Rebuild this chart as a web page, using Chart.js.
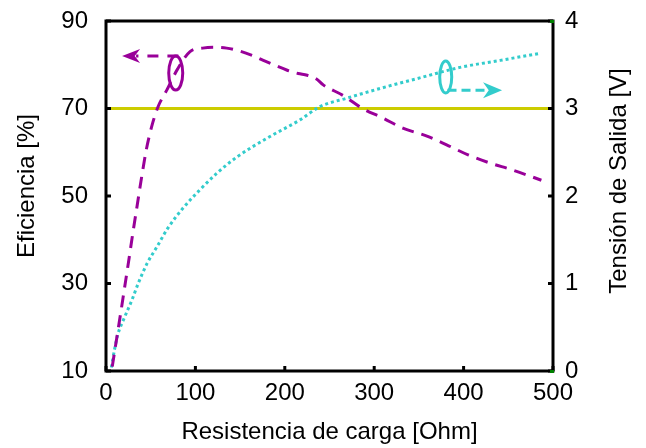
<!DOCTYPE html>
<html>
<head>
<meta charset="utf-8">
<script src="https://cdn.jsdelivr.net/npm/chart.js@4.4.1/dist/chart.umd.min.js"></script>
<style>
  html, body { margin: 0; padding: 0; background: #fff; }
</style>
</head>
<body>
<canvas id="effChart" width="646" height="448"></canvas>
<script>
// Load resistance [Ohm] and efficiency [%]
const rEff = [7, 12, 17, 20, 26, 30, 35, 40, 45, 51, 58, 68, 80, 94, 108, 120, 135, 150, 165, 176,
              190, 202, 215, 225, 235, 243, 265, 287, 310, 332, 359, 381, 405, 430, 454, 487];
const efficiency = [11, 17.5, 24, 28, 36, 41.5, 48, 54.5, 60.5, 65.8, 70.3, 74.2, 79, 83, 83.8, 84, 83.8, 83.1, 82, 81,
                    79.8, 78.8, 78, 77.6, 76.8, 75.4, 73, 70, 67.8, 65.5, 63.7, 61.7, 59.4, 57.5, 56, 53.6];

// Load resistance [Ohm] and output voltage [V]
const rVolt = [6, 10, 13, 21, 29, 36, 46, 57, 69, 86, 105, 124, 147, 180, 217, 239, 270, 314, 351, 396, 441, 485];
const voltage = [0.04, 0.27, 0.41, 0.62, 0.81, 1.0, 1.23, 1.42, 1.63, 1.86, 2.07, 2.26, 2.45, 2.66, 2.87, 3.02,
                 3.12, 3.25, 3.35, 3.47, 3.55, 3.63];

// Horizontal reference line (efficiency axis)
const refRange = [0, 500];
const refLevel = 70;

const FONT = "'Liberation Sans', Arial, sans-serif";
const PURPLE = '#990099';
const CYAN = '#33cccc';
const YELLOW = '#cccc00';

function toXY(xs, ys) {
    return xs.map((x, i) => ({ x: x, y: ys[i] }));
}

function arrowHead(ctx, tipX, tipY, dir, len, halfW) {
    ctx.beginPath();
    ctx.moveTo(tipX, tipY);
    ctx.lineTo(tipX - dir * len, tipY - halfW);
    ctx.lineTo(tipX - dir * len * 0.7, tipY);
    ctx.lineTo(tipX - dir * len, tipY + halfW);
    ctx.closePath();
    ctx.fill();
}

// frame, inward ticks, rotated axis titles and the two ellipse/arrow markers
const decorations = {
    id: 'decorations',
    afterDatasetsDraw(chart) {
        const ctx = chart.ctx;
        const a = chart.chartArea;
        const sx = chart.scales.x, sy = chart.scales.y, sv = chart.scales.y2;
        ctx.save();

        // inward tick marks
        ctx.strokeStyle = '#000';
        ctx.lineWidth = 3;
        ctx.beginPath();
        sx.ticks.forEach(t => {
            const px = sx.getPixelForValue(t.value);
            ctx.moveTo(px, a.bottom); ctx.lineTo(px, a.bottom - 5);
        });
        sy.ticks.forEach(t => {
            const py = sy.getPixelForValue(t.value);
            ctx.moveTo(a.left, py); ctx.lineTo(a.left + 5, py);
        });
        sv.ticks.forEach(t => {
            const py = sv.getPixelForValue(t.value);
            ctx.moveTo(a.right, py); ctx.lineTo(a.right - 5, py);
        });
        ctx.stroke();

        // frame
        ctx.strokeRect(a.left, a.top, a.right - a.left, a.bottom - a.top);
        ctx.fillStyle = '#008000';
        ctx.fillRect(a.right - 3, a.top - 1, 4, 3);
        ctx.fillRect(a.right - 3, a.bottom - 1, 4, 3);

        // efficiency marker: ellipse + dashed arrow pointing to left axis
        ctx.strokeStyle = PURPLE;
        ctx.fillStyle = PURPLE;
        ctx.lineWidth = 3;
        ctx.beginPath();
        ctx.ellipse(sx.getPixelForValue(78), sy.getPixelForValue(78.1), 7, 17, 0, 0, Math.PI * 2);
        ctx.stroke();
        const pY = sy.getPixelForValue(82);
        const pTip = sx.getPixelForValue(18);
        ctx.setLineDash([11, 9]);
        ctx.beginPath();
        ctx.moveTo(sx.getPixelForValue(81), pY);
        ctx.lineTo(pTip + 14, pY);
        ctx.stroke();
        ctx.setLineDash([]);
        arrowHead(ctx, pTip, pY, -1, 18, 7);

        // voltage marker: ellipse + dashed arrow pointing to right axis
        ctx.strokeStyle = CYAN;
        ctx.fillStyle = CYAN;
        ctx.beginPath();
        ctx.ellipse(sx.getPixelForValue(380), sv.getPixelForValue(3.36), 6, 16, 0, 0, Math.PI * 2);
        ctx.stroke();
        const cY = sv.getPixelForValue(3.21);
        const cTip = sx.getPixelForValue(443);
        ctx.setLineDash([9, 5]);
        ctx.beginPath();
        ctx.moveTo(sx.getPixelForValue(382), cY);
        ctx.lineTo(cTip - 14, cY);
        ctx.stroke();
        ctx.setLineDash([]);
        arrowHead(ctx, cTip, cY, 1, 19, 8);

        // vertical axis titles, both read bottom to top
        ctx.fillStyle = '#000';
        ctx.font = '24px ' + FONT;
        ctx.textAlign = 'center';
        ctx.textBaseline = 'middle';
        ctx.save();
        ctx.translate(27, 186);
        ctx.rotate(-Math.PI / 2);
        ctx.fillText('Eficiencia [%]', 0, 0);
        ctx.restore();
        ctx.save();
        ctx.translate(619, 181);
        ctx.rotate(-Math.PI / 2);
        ctx.fillText('Tensión de Salida [V]', 0, 0);
        ctx.restore();

        ctx.restore();
    }
};

const tickFont = { family: FONT, size: 24 };

// fixed axis sizes, and no extra room for overhanging tick labels
function fixSize(w, h) {
    return function (scale) {
        if (w) scale.width = w;
        if (h) scale.height = h;
        scale.paddingTop = 0;
        scale.paddingBottom = 0;
        scale.paddingLeft = 0;
        scale.paddingRight = 0;
    };
}

new Chart(document.getElementById('effChart'), {
    type: 'line',
    data: {
        datasets: [
            {
                label: 'Eficiencia',
                data: toXY(rEff, efficiency),
                yAxisID: 'y',
                borderColor: PURPLE,
                borderWidth: 3,
                borderDash: [12, 8],
                pointRadius: 0,
                cubicInterpolationMode: 'monotone',
                fill: false,
                order: 1
            },
            {
                label: 'Tensión de Salida',
                data: toXY(rVolt, voltage),
                yAxisID: 'y2',
                borderColor: CYAN,
                borderWidth: 3,
                borderDash: [3, 3],
                pointRadius: 0,
                cubicInterpolationMode: 'monotone',
                fill: false,
                order: 2
            },
            {
                label: 'Referencia',
                data: refRange.map(x => ({ x: x, y: refLevel })),
                yAxisID: 'y',
                borderColor: YELLOW,
                borderWidth: 3,
                pointRadius: 0,
                fill: false,
                order: 3
            }
        ]
    },
    options: {
        responsive: false,
        animation: false,
        events: [],
        layout: { padding: { top: 21, left: 0, right: 0, bottom: 0 } },
        plugins: {
            legend: { display: false },
            tooltip: { enabled: false }
        },
        scales: {
            x: {
                type: 'linear',
                min: 0,
                max: 500,
                grid: { display: false, drawTicks: false },
                border: { display: false },
                ticks: { stepSize: 100, color: '#000', font: tickFont, padding: 8, maxRotation: 0 },
                title: {
                    display: true,
                    text: 'Resistencia de carga [Ohm]',
                    color: '#000',
                    font: { family: FONT, size: 24 },
                    padding: { top: 0, bottom: 1 }
                },
                afterFit: fixSize(0, 77)
            },
            y: {
                position: 'left',
                min: 10,
                max: 90,
                grid: { display: false, drawTicks: false },
                border: { display: false },
                ticks: { stepSize: 20, color: '#000', font: tickFont, padding: 18 },
                afterFit: fixSize(106, 0)
            },
            y2: {
                position: 'right',
                min: 0,
                max: 4,
                grid: { display: false, drawTicks: false },
                border: { display: false },
                ticks: { stepSize: 1, color: '#000', font: tickFont, padding: 12 },
                afterFit: fixSize(93, 0)
            }
        }
    },
    plugins: [decorations]
});
</script>
</body>
</html>
